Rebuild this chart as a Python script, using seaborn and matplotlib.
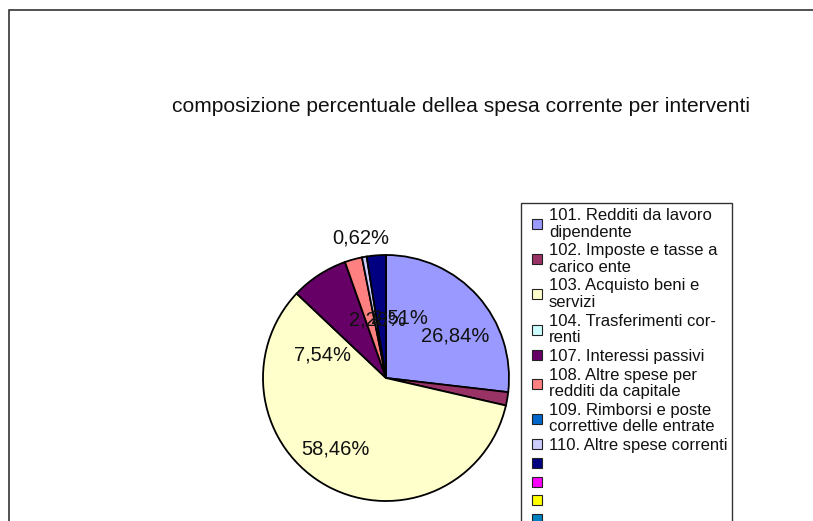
import matplotlib
matplotlib.use("Agg")
import matplotlib.pyplot as plt
from matplotlib.patches import Rectangle
from matplotlib.lines import Line2D
import numpy as np
import seaborn as sns

sns.set_theme(style="white")
plt.rcParams["font.family"] = ["Liberation Sans", "DejaVu Sans"]

# ---- data ----
legend_labels = [
    "101. Redditi da lavoro\ndipendente",
    "102. Imposte e tasse a\ncarico ente",
    "103. Acquisto beni e\nservizi",
    "104. Trasferimenti cor-\nrenti",
    "107. Interessi passivi",
    "108. Altre spese per\nredditi da capitale",
    "109. Rimborsi e poste\ncorrettive delle entrate",
    "110. Altre spese correnti",
    "", "", "", "",
]
values = [26.84, 1.75, 58.46, 0.0, 7.54, 2.28, 0.0, 0.62, 2.51, 0.0, 0.0, 0.0]
pct_labels = ["26,84%", "1,75%", "58,46%", "", "7,54%", "2,28%", "", "0,62%", "2,51%", "", "", ""]
colors = ["#9999FF", "#993366", "#FFFFCC", "#CCFFFF", "#660066", "#FF8080",
          "#0066CC", "#CCCCFF", "#000080", "#FF00FF", "#FFFF00", "#0080C0"]
title = "composizione percentuale dellea spesa corrente per interventi"

# label placement style: radial distance (fraction of radius) and offset in points
label_dist = [0.68, 1.40, 0.72, 0, 0.60, 0.48, 0, 1.16, 0.48, 0, 0, 0]
label_off = [(5, -10), (0, 0), (-6.5, 5), (0, 0), (-17, -28), (5, 1), (0, 0), (0, 0), (13, 1),
             (0, 0), (0, 0), (0, 0)]

W, H = 813, 521
fig = plt.figure(figsize=(W / 100, H / 100), dpi=100)
fig.patch.set_facecolor("white")

# outer chart border
fig.add_artist(Rectangle((9 / W, -0.1), 1.2, (H - 10) / H + 0.1, transform=fig.transFigure,
                         fill=False, edgecolor="#333333", linewidth=1.2))

cx, cy, r = 386, 378, 123
ax = fig.add_axes([(cx - r) / W, (H - cy - r) / H, 2 * r / W, 2 * r / H])
ax.set_axis_off()

vals = np.array(values)
nz = vals > 0
wedges, _ = ax.pie(vals[nz], colors=[c for c, k in zip(colors, nz) if k],
                   startangle=90, counterclock=False, radius=1,
                   wedgeprops=dict(edgecolor="black", linewidth=1.3))
ax.set_xlim(-1, 1)
ax.set_ylim(-1, 1)

# percentage labels from wedge angles
total = vals.sum()
start = 90.0
for v, lab, d, off in zip(values, pct_labels, label_dist, label_off):
    if v <= 0:
        continue
    sweep = v / total * 360
    mid = np.deg2rad(start - sweep / 2)
    start -= sweep
    x, y = d * np.cos(mid), d * np.sin(mid)
    ax.annotate(lab, (x, y), xytext=off, textcoords="offset points",
                ha="center", va="center", fontsize=14.5, color="#111111",
                annotation_clip=False)

fig.text(461 / W, 1 - 107 / H, title, ha="center", va="center", fontsize=15.1, color="#111111")

handles = [Line2D([], [], linestyle="none", marker="s", markersize=6.5,
                  markerfacecolor=c, markeredgecolor="#222222", markeredgewidth=0.8)
           for c in colors]
leg = fig.legend(handles, legend_labels, loc="upper left",
                 bbox_to_anchor=(521 / W, 1 - 203 / H), fontsize=12,
                 frameon=True, fancybox=False, framealpha=1, edgecolor="#333333",
                 handlelength=1.32, handletextpad=0.05,
                 labelspacing=0.22, borderpad=0.3, borderaxespad=0)
leg.get_frame().set_linewidth(1.0)
for t in leg.get_texts():
    t.set_linespacing(1.13)
    t.set_color("#111111")

fig.savefig("out.png", dpi=100, facecolor="white")
